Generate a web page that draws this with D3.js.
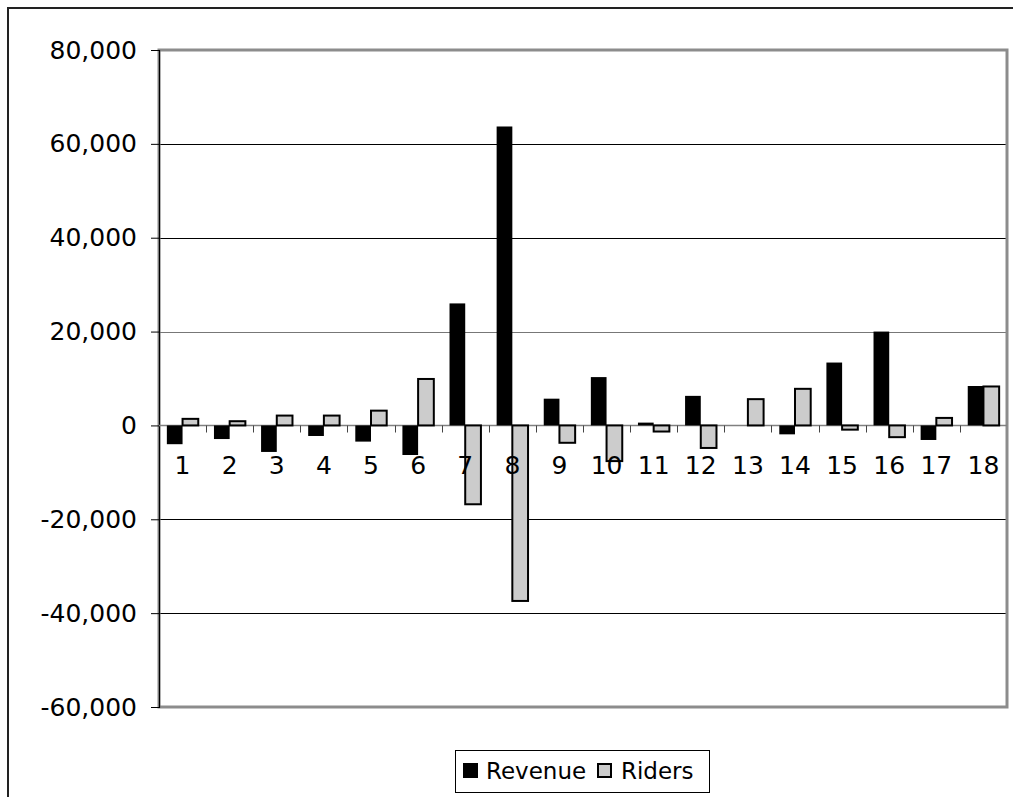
<!DOCTYPE html>
<html>
<head>
<meta charset="utf-8">
<script src="https://cdn.jsdelivr.net/npm/d3@7"></script>
<style>
  html, body { margin: 0; padding: 0; background: #fff; }
  svg { display: block; }
  text { font-family: "DejaVu Sans", Verdana, sans-serif; fill: #000; }
</style>
</head>
<body>
<svg id="chart" width="1013" height="797"></svg>
<script>
// Route numbers along the x axis
const categories = ["1","2","3","4","5","6","7","8","9","10","11","12","13","14","15","16","17","18"];
// Change in revenue per route
const revenue = [-4000, -2900, -5650, -2250, -3450, -6300, 26000, 63700, 5700, 10300, 600, 6300, 0, -1900, 13400, 20000, -3100, 8400];
// Change in riders per route
const riders = [1400, 900, 2100, 2100, 3150, 9900, -16800, -37400, -3700, -7600, -1300, -4800, 5600, 7800, -900, -2500, 1600, 8300];
const seriesNames = ["Revenue", "Riders"];
const yTicks = [-60000, -40000, -20000, 0, 20000, 40000, 60000, 80000];

const svg = d3.select("#chart");
const plot = { left: 159, right: 1007, top: 50, bottom: 707 };

const fmt = d3.formatLocale({ decimal: ".", thousands: ",", grouping: [3], currency: ["$", ""], minus: "-" }).format(",");

const x = d3.scaleBand().domain(categories).range([plot.left, plot.right]).padding(0);
const xs = d3.scaleBand().domain(seriesNames).range([0, x.bandwidth()]).paddingInner(0).paddingOuter(0.5);
const y = d3.scaleLinear().domain([-60000, 80000]).range([plot.bottom, plot.top]);

const fills = { Revenue: "#000000", Riders: "#cccccc" };

// Outer chart frame (continues past the right and bottom edges)
svg.append("rect")
  .attr("x", 8).attr("y", 8).attr("width", 1040).attr("height", 840)
  .attr("fill", "none").attr("stroke", "#222").attr("stroke-width", 2);

// Horizontal gridlines
svg.append("g")
  .selectAll("line")
  .data(yTicks.filter(d => d !== 0 && d !== 80000 && d !== -60000))
  .join("line")
  .attr("x1", plot.left).attr("x2", plot.right)
  .attr("y1", d => Math.round(y(d)) + 0.5).attr("y2", d => Math.round(y(d)) + 0.5)
  .attr("stroke", d => d === 20000 ? "#777" : "#000").attr("stroke-width", 1);

// Plot area border (gray, with shading to the right and below)
svg.append("rect")
  .attr("x", plot.left).attr("y", plot.top)
  .attr("width", plot.right - plot.left).attr("height", plot.bottom - plot.top)
  .attr("fill", "none").attr("stroke", "#8c8c8c").attr("stroke-width", 3);

// Y axis
const yAxis = svg.append("g")
  .attr("transform", `translate(${plot.left},0)`)
  .call(d3.axisLeft(y).tickValues(yTicks).tickFormat(fmt).tickSize(8).tickPadding(14));
yAxis.select(".domain").attr("stroke", "#000").attr("stroke-width", 1.2);
yAxis.selectAll(".tick line").attr("stroke", "#000");
yAxis.selectAll(".tick text")
  .style("font-family", '"DejaVu Sans", Verdana, sans-serif')
  .style("font-size", "25px").attr("fill", "#000");

// Zero line with category-boundary tick marks
const y0 = Math.round(y(0)) + 0.5;
svg.append("line")
  .attr("x1", plot.left).attr("x2", plot.right)
  .attr("y1", y0).attr("y2", y0)
  .attr("stroke", "#808080").attr("stroke-width", 1.5);
svg.append("g")
  .selectAll("line")
  .data(categories.slice(1))
  .join("line")
  .attr("x1", d => Math.round(x(d)) + 0.5).attr("x2", d => Math.round(x(d)) + 0.5)
  .attr("y1", y0).attr("y2", y0 + 7)
  .attr("stroke", "#444").attr("stroke-width", 1);

// Bars
const rows = categories.map((c, i) => ({ cat: c, Revenue: revenue[i], Riders: riders[i] }));
const groups = svg.append("g").selectAll("g")
  .data(rows)
  .join("g")
  .attr("transform", d => `translate(${x(d.cat)},0)`);

groups.selectAll("rect")
  .data(d => seriesNames.map(s => ({ key: s, value: d[s] })).filter(v => v.value !== 0))
  .join("rect")
  .attr("x", d => xs(d.key))
  .attr("width", xs.bandwidth())
  .attr("y", d => y(Math.max(0, d.value)))
  .attr("height", d => Math.abs(y(d.value) - y(0)))
  .attr("fill", d => fills[d.key])
  .attr("stroke", d => d.key === "Riders" ? "#000" : "none")
  .attr("stroke-width", 2);

// Category labels below the zero line
const xAxis = svg.append("g")
  .attr("transform", `translate(0,${y(0)})`)
  .call(d3.axisBottom(x).tickSize(0).tickPadding(31));
xAxis.select(".domain").remove();
xAxis.selectAll(".tick text")
  .style("font-family", '"DejaVu Sans", Verdana, sans-serif')
  .style("font-size", "25px").attr("fill", "#000");

// Legend
const legend = svg.append("g");
legend.append("rect")
  .attr("x", 455.5).attr("y", 750.5).attr("width", 254).attr("height", 42)
  .attr("fill", "#fff").attr("stroke", "#000").attr("stroke-width", 1);
const legendItems = [
  { key: "Revenue", sx: 463, tx: 486 },
  { key: "Riders", sx: 597, tx: 621 }
];
legendItems.forEach(it => {
  legend.append("rect")
    .attr("x", it.key === "Riders" ? it.sx + 1 : it.sx).attr("y", it.key === "Riders" ? 764 : 763)
    .attr("width", it.key === "Riders" ? 13 : 15).attr("height", it.key === "Riders" ? 13 : 15)
    .attr("fill", fills[it.key])
    .attr("stroke", it.key === "Riders" ? "#000" : "none").attr("stroke-width", 2);
  legend.append("text")
    .attr("x", it.tx).attr("y", 779)
    .style("font-size", "23px")
    .text(it.key);
});
</script>
</body>
</html>
